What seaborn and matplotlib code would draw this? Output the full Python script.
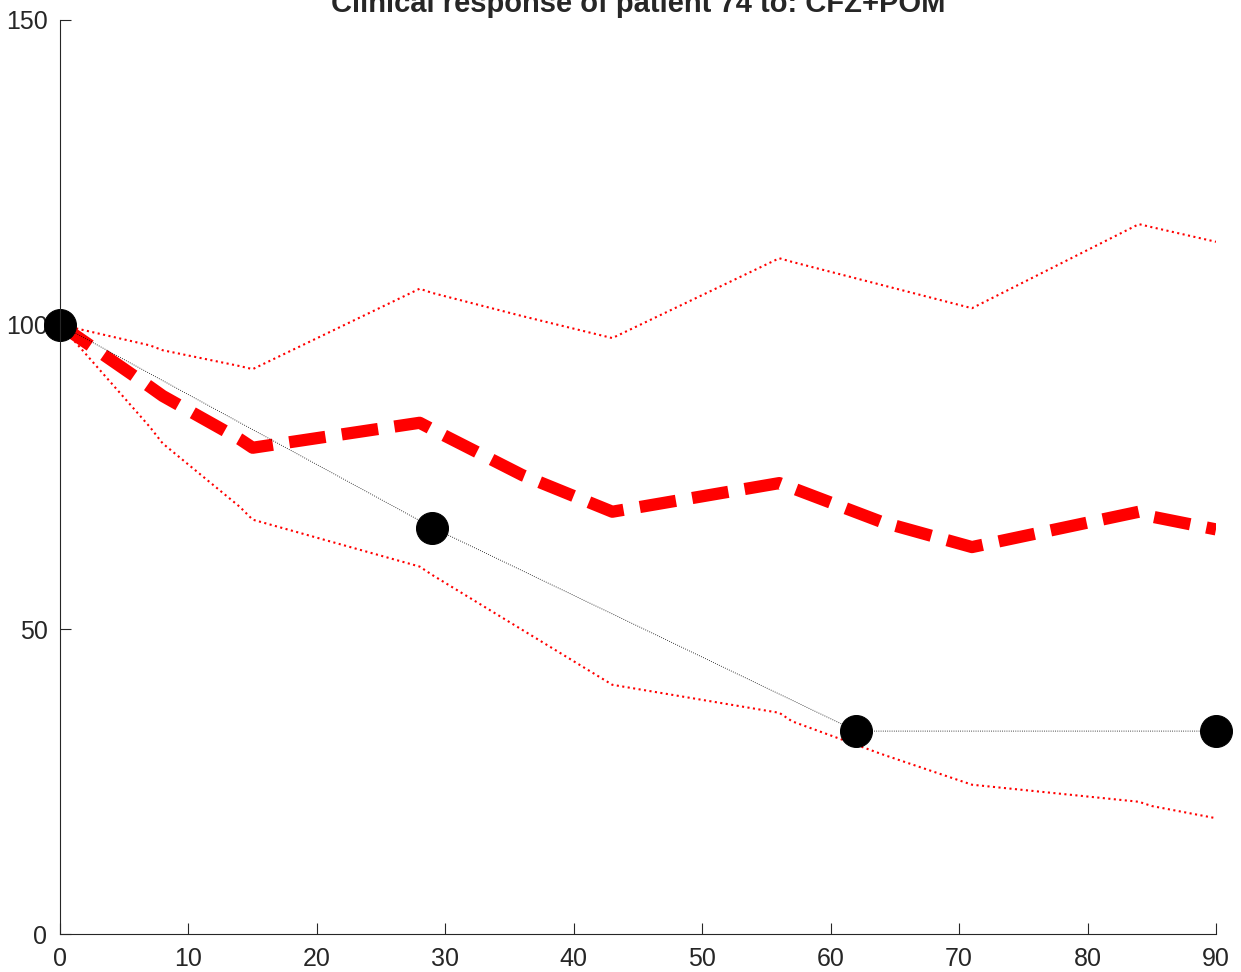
import matplotlib
matplotlib.use("Agg")
import matplotlib.pyplot as plt
import seaborn as sns

# simulated response bands (days since start, % of baseline)
days = [0, 7, 8, 14, 15, 28, 29, 36, 43, 56, 57, 64, 71, 84, 85, 90]
upper = [100, 96.6, 95.8, 93.2, 92.7, 105.9, 105.2, 101.4, 97.8, 110.9, 110.3, 106.5, 102.7, 116.5, 116.0, 113.6]
median = [100, 89.8, 88.3, 81.2, 79.8, 83.9, 82.8, 75.3, 69.3, 74.0, 73.2, 67.6, 63.5, 69.3, 68.5, 66.4]
lower = [100, 83.2, 80.5, 70.1, 68.0, 60.3, 58.9, 49.9, 40.9, 36.3, 34.9, 29.5, 24.5, 21.7, 21.0, 19.0]

# observed clinical values
obs_days = [0, 29, 62, 90]
obs_vals = [100, 66.7, 33.3, 33.3]

title = "Clinical response of patient 74 to: CFZ+POM"

sns.set_style("ticks")
plt.rcParams["font.family"] = ["Liberation Sans", "DejaVu Sans"]

fig = plt.figure(figsize=(12.41, 9.72), dpi=100)
ax = fig.add_axes([60 / 1241, 38 / 972, 1156 / 1241, 914 / 972])

sns.lineplot(x=days, y=upper, ax=ax, color="red", linestyle=":", lw=1.5)
sns.lineplot(x=days, y=lower, ax=ax, color="red", linestyle=":", lw=1.5)
sns.lineplot(x=days, y=median, ax=ax, color="red", lw=8.8,
             linestyle=(0, (3.0, 1.35)), dash_capstyle="butt")
sns.lineplot(x=obs_days, y=obs_vals, ax=ax, color="black", lw=0.6, linestyle=":",
             marker="o", markersize=23, markeredgecolor="black", clip_on=False)

ax.set_xlim(0, 90)
ax.set_ylim(0, 150)
ax.set_xticks(range(0, 91, 10))
ax.set_yticks([0, 50, 100, 150])
ax.tick_params(direction="in", length=8, width=0.8, labelsize=18,
               colors="#262626", labelcolor="#262626")
ax.tick_params(axis="y", pad=9)
ax.tick_params(axis="x", pad=9)
for side in ["left", "bottom"]:
    ax.spines[side].set_color("#262626")
    ax.spines[side].set_linewidth(0.8)
sns.despine(ax=ax)

ax.set_title(title, fontweight="bold", fontsize=21, pad=6)

fig.savefig("out.png", dpi=100)
